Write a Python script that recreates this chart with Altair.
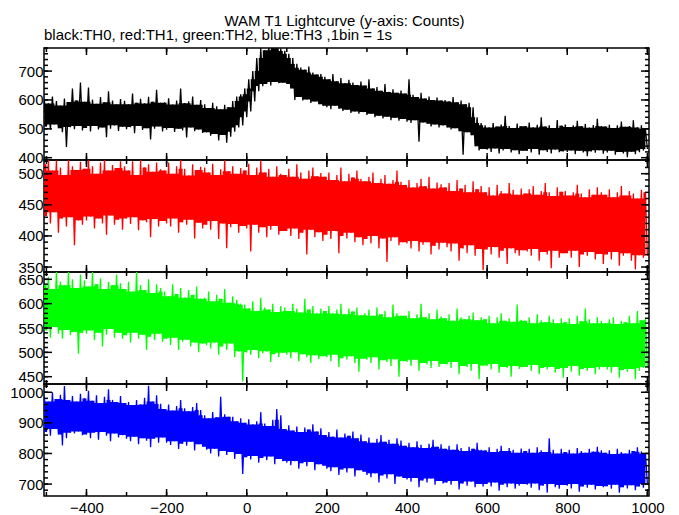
import altair as alt
import pandas as pd

# time grid of the 10 s sub-bins (max value at t, min value at t+5)
T = list(range(-505, 1000, 10))

# ---- TH0 (black) : per-10s maxima / minima
TH0_HI = [600, 588, 612, 596, 581, 605, 593, 640, 598, 660,
          594, 643, 601, 587, 610, 592, 630, 598, 585, 603,
          597, 585, 622, 590, 604, 588, 611, 594, 635, 590,
          592, 606, 584, 598, 640, 589, 595, 612, 583, 600,
          585, 572, 590, 578, 568, 583, 575, 596, 612, 620,
          640, 672, 700, 745, 780, 772, 790, 785, 795, 778,
          770, 760, 745, 725, 712, 705, 716, 695, 688, 690,
          680, 672, 690, 665, 676, 658, 670, 660, 652, 664,
          650, 672, 640, 645, 632, 655, 628, 637, 625, 633,
          622, 672, 618, 610, 625, 605, 612, 600, 608, 598,
          600, 595, 610, 592, 598, 585, 590, 575, 540, 520,
          512, 505, 520, 508, 515, 545, 510, 503, 518, 509,
          510, 522, 505, 514, 540, 508, 512, 503, 530, 511,
          515, 506, 512, 528, 509, 517, 504, 513, 535, 510,
          508, 514, 503, 512, 525, 507, 510, 530, 505, 512,
          500]
TH0_LO = [508, 497, 515, 502, 488, 437, 506, 499, 510, 494,
          503, 491, 510, 498, 505, 471, 500, 512, 493, 507,
          499, 506, 485, 510, 496, 502, 463, 500, 508, 491,
          497, 503, 489, 500, 494, 470, 505, 492, 498, 486,
          488, 476, 482, 460, 479, 452, 473, 490, 505, 512,
          540, 560, 595, 630, 648, 655, 650, 662, 658, 660,
          655, 640, 600, 610, 598, 602, 590, 595, 585, 580,
          575, 568, 580, 570, 562, 566, 555, 560, 552, 558,
          548, 552, 540, 545, 536, 542, 530, 538, 528, 534,
          525, 520, 530, 455, 522, 518, 508, 515, 505, 512,
          505, 498, 502, 492, 410, 488, 478, 440, 425, 430,
          428, 420, 432, 415, 425, 430, 418, 426, 412, 424,
          423, 418, 430, 410, 426, 420, 415, 428, 419, 422,
          420, 425, 412, 424, 418, 405, 422, 417, 426, 414,
          418, 424, 410, 420, 415, 402, 421, 412, 419, 425,
          430]

# ---- TH1 (red)
TH1_HI = [515, 522, 505, 521, 510, 498, 522, 512, 506, 519,
          508, 522, 512, 500, 518, 522, 505, 514, 509, 520,
          512, 505, 520, 498, 522, 510, 515, 503, 518, 507,
          505, 518, 500, 512, 522, 508, 497, 515, 506, 511,
          510, 502, 516, 498, 507, 522, 504, 512, 500, 509,
          505, 516, 498, 510, 521, 502, 508, 495, 512, 500,
          498, 508, 495, 515, 502, 492, 505, 510, 496, 501,
          495, 502, 490, 498, 510, 488, 500, 494, 505, 492,
          488, 495, 502, 485, 492, 498, 484, 490, 505, 487,
          482, 490, 478, 485, 492, 480, 495, 476, 486, 483,
          478, 485, 472, 490, 476, 482, 470, 488, 475, 480,
          470, 478, 465, 482, 472, 468, 485, 474, 466, 476,
          468, 475, 480, 466, 472, 485, 470, 464, 478, 471,
          472, 465, 470, 482, 468, 462, 475, 466, 478, 470,
          466, 475, 462, 470, 480, 465, 472, 468, 460, 474,
          470]
TH1_LO = [432, 420, 438, 405, 428, 415, 430, 385, 425, 418,
          425, 431, 412, 428, 420, 402, 433, 418, 426, 410,
          428, 419, 430, 409, 425, 422, 398, 427, 415, 424,
          420, 415, 428, 405, 422, 418, 426, 396, 421, 412,
          418, 410, 424, 395, 420, 380, 414, 419, 405, 416,
          412, 375, 418, 405, 414, 398, 410, 416, 402, 408,
          408, 400, 412, 395, 405, 370, 410, 398, 406, 392,
          402, 395, 408, 372, 400, 396, 405, 390, 398, 385,
          395, 388, 400, 380, 396, 358, 392, 398, 385, 390,
          388, 380, 392, 375, 386, 390, 370, 384, 378, 389,
          382, 375, 388, 360, 380, 372, 385, 368, 379, 345,
          378, 370, 382, 365, 376, 355, 380, 372, 368, 377,
          375, 368, 379, 360, 374, 370, 348, 376, 365, 372,
          372, 365, 376, 350, 370, 368, 374, 362, 371, 355,
          370, 362, 374, 352, 368, 372, 360, 346, 369, 365,
          368]

# ---- TH2 (green)
TH2_HI = [640, 655, 630, 665, 645, 638, 665, 650, 632, 660,
          648, 635, 665, 640, 652, 630, 645, 638, 660, 642,
          630, 645, 625, 665, 638, 628, 650, 622, 640, 632,
          625, 615, 640, 620, 632, 612, 628, 618, 635, 610,
          612, 625, 605, 618, 610, 630, 602, 615, 608, 600,
          598, 590, 605, 585, 612, 592, 588, 600, 583, 595,
          592, 585, 600, 590, 582, 610, 588, 595, 580, 590,
          585, 595, 580, 588, 600, 578, 590, 584, 592, 576,
          580, 588, 575, 592, 578, 585, 572, 598, 580, 575,
          575, 585, 570, 578, 600, 572, 580, 568, 588, 574,
          570, 578, 565, 590, 572, 568, 575, 582, 566, 572,
          568, 575, 560, 572, 580, 565, 570, 563, 598, 567,
          565, 572, 560, 578, 566, 562, 575, 568, 560, 570,
          562, 570, 558, 575, 564, 590, 568, 560, 572, 565,
          560, 568, 572, 558, 565, 562, 575, 560, 585, 566,
          570]
TH2_LO = [545, 530, 552, 538, 528, 546, 535, 542, 497, 540,
          538, 545, 525, 540, 512, 536, 548, 530, 540, 528,
          535, 520, 540, 528, 536, 505, 532, 525, 538, 522,
          528, 515, 530, 505, 522, 526, 512, 520, 500, 518,
          515, 508, 520, 495, 512, 505, 518, 490, 502, 440,
          500, 495, 505, 488, 498, 502, 480, 496, 490, 499,
          495, 488, 500, 482, 496, 490, 478, 494, 486, 492,
          490, 482, 495, 470, 488, 485, 492, 478, 460, 487,
          485, 478, 490, 465, 484, 480, 472, 486, 450, 482,
          480, 472, 485, 462, 478, 475, 468, 482, 470, 476,
          475, 468, 480, 455, 472, 470, 462, 476, 445, 473,
          472, 465, 476, 458, 470, 468, 450, 472, 466, 470,
          470, 462, 474, 455, 468, 465, 470, 458, 466, 448,
          468, 460, 472, 452, 466, 462, 468, 455, 465, 470,
          465, 458, 470, 448, 464, 460, 466, 445, 462, 468,
          470]

# ---- TH3 (blue)
TH3_HI = [985, 970, 1000, 978, 992, 1020, 975, 988, 970, 995,
          980, 1005, 972, 990, 965, 985, 1010, 975, 968, 988,
          965, 968, 958, 975, 960, 982, 1021, 970, 990, 962,
          945, 960, 940, 955, 975, 948, 938, 952, 965, 942,
          925, 915, 935, 918, 985, 928, 920, 920, 905, 915,
          900, 912, 895, 905, 935, 898, 890, 910, 945, 925,
          880, 892, 875, 888, 870, 885, 878, 895, 872, 882,
          860, 870, 855, 878, 852, 865, 858, 872, 850, 862,
          840, 852, 835, 848, 860, 838, 845, 832, 850, 842,
          825, 835, 820, 840, 828, 818, 832, 845, 822, 830,
          815, 825, 812, 830, 818, 808, 822, 815, 835, 812,
          810, 820, 805, 815, 825, 808, 818, 812, 802, 816,
          808, 815, 802, 820, 810, 805, 850, 812, 800, 815,
          805, 812, 800, 818, 808, 802, 815, 806, 822, 810,
          802, 810, 798, 815, 805, 800, 812, 808, 820, 806,
          800]
TH3_LO = [870, 858, 880, 862, 826, 850, 868, 865, 872, 860,
          862, 850, 868, 845, 870, 858, 840, 865, 852, 860,
          848, 840, 855, 830, 850, 842, 820, 848, 835, 852,
          835, 828, 840, 815, 832, 825, 838, 810, 830, 822,
          812, 800, 815, 790, 808, 795, 805, 782, 798, 733,
          788, 780, 792, 770, 785, 778, 790, 765, 782, 775,
          770, 762, 775, 750, 768, 758, 772, 745, 765, 760,
          750, 742, 755, 730, 748, 738, 752, 725, 745, 740,
          730, 722, 735, 705, 728, 718, 732, 700, 725, 720,
          715, 708, 720, 690, 712, 705, 718, 698, 710, 702,
          705, 698, 710, 682, 702, 695, 708, 690, 700, 692,
          700, 692, 705, 678, 698, 690, 702, 685, 695, 700,
          698, 688, 702, 680, 695, 672, 700, 690, 685, 697,
          695, 686, 700, 675, 692, 688, 698, 682, 694, 690,
          693, 685, 698, 672, 690, 686, 696, 680, 692, 688,
          700]

# ---- axes
XDOM = [-506, 1004]
XMAJOR = [-400, -200, 0, 200, 400, 600, 800, 1000]
XMINOR = list(range(-500, 1001, 100))

PANELS = [
    dict(hi=TH0_HI, lo=TH0_LO, color="#000000", dom=[392, 780],
         major=[400, 500, 600, 700], minor=list(range(400, 781, 20))),
    dict(hi=TH1_HI, lo=TH1_LO, color="#ff0000", dom=[342, 522],
         major=[350, 400, 450, 500], minor=list(range(350, 521, 10))),
    dict(hi=TH2_HI, lo=TH2_LO, color="#00ff00", dom=[435, 665],
         major=[450, 500, 550, 600, 650], minor=list(range(440, 661, 10))),
    dict(hi=TH3_HI, lo=TH3_LO, color="#0000ff", dom=[661, 1027],
         major=[700, 800, 900, 1000], minor=list(range(680, 1021, 20))),
]

W, H = 605, 112
FONT = "Liberation Sans"


def zig(hi, lo):
    t, c = [], []
    for ti, h, l in zip(T, hi, lo):
        t += [ti, ti + 5]
        c += [h, l]
    return pd.DataFrame({"t": t, "c": c})


def panel(p, bottom, title=None):
    xs = alt.Scale(domain=XDOM, nice=False, zero=False)
    ys = alt.Scale(domain=p["dom"], nice=False, zero=False)
    if bottom:
        xaxis = alt.Axis(values=XMAJOR, ticks=False, domain=False, grid=False, title=None,
                         labelFont=FONT, labelFontSize=15, labelColor="black", format="d",
                         labelPadding=4, labelFlush=False)
    else:
        xaxis = None
    yaxis = alt.Axis(values=p["major"], ticks=False, domain=False, grid=False, title=None,
                     labelFont=FONT, labelFontSize=15, labelColor="black", format="d",
                     labelPadding=1)
    X = alt.X("t:Q", scale=xs, axis=xaxis)
    Y = alt.Y("c:Q", scale=ys, axis=yaxis)

    # solid core of the band: local (3-bin) lowest maximum / highest minimum
    bins = pd.DataFrame({"t": T, "hi": p["hi"], "lo": p["lo"]})
    core = alt.Chart(bins).transform_window(
        hmin="min(hi)", lmax="max(lo)", frame=[-1, 1], sort=[alt.SortField("t")]
    ).mark_area(color=p["color"], clip=True, interpolate="step").encode(
        x=X, y=alt.Y("hmin:Q", scale=ys, axis=yaxis), y2="lmax:Q")

    line = alt.Chart(zig(p["hi"], p["lo"])).mark_line(
        color=p["color"], strokeWidth=1.3, clip=True).encode(x=X, y=Y)
    layers = [core, line]
    ymaj = pd.DataFrame({"c": p["major"]})
    ymin = pd.DataFrame({"c": p["minor"]})
    xmaj = pd.DataFrame({"t": XMAJOR})
    xmin = pd.DataFrame({"t": XMINOR})
    for df, L in ((ymaj, 8), (ymin, 4)):
        layers.append(alt.Chart(df).mark_rule(color="black", strokeWidth=1.5).encode(
            y=Y, x=alt.value(0), x2=alt.value(L)))
        layers.append(alt.Chart(df).mark_rule(color="black", strokeWidth=1.5).encode(
            y=Y, x=alt.value(W - L), x2=alt.value(W)))
    for df, L in ((xmaj, 7), (xmin, 4)):
        layers.append(alt.Chart(df).mark_rule(color="black", strokeWidth=1.5).encode(
            x=X, y=alt.value(0), y2=alt.value(L)))
        layers.append(alt.Chart(df).mark_rule(color="black", strokeWidth=1.5).encode(
            x=X, y=alt.value(H - L), y2=alt.value(H)))
    ch = alt.layer(*layers).properties(width=W, height=H)
    if title is not None:
        ch = ch.properties(title=title)
    return ch


sub = alt.TitleParams("black:TH0, red:TH1, green:TH2, blue:TH3 ,1bin = 1s",
                      anchor="start", frame="group", font=FONT, fontSize=15,
                      fontWeight="normal", color="black", offset=4)

charts = [panel(p, i == 3, sub if i == 0 else None) for i, p in enumerate(PANELS)]

chart = alt.vconcat(*charts, spacing=0, bounds="flush").properties(
    title=alt.TitleParams("WAM T1 Lightcurve (y-axis: Counts)", anchor="middle",
                          frame="group", font=FONT, fontSize=15, fontWeight="normal",
                          color="black", offset=2, dx=-2, dy=3),
    padding={"left": 0, "top": 5, "right": 0, "bottom": 0},
    background="white",
).configure_view(stroke="black", strokeWidth=1.5)

chart.save("out.html", embed_options={"renderer": "svg", "actions": False})
